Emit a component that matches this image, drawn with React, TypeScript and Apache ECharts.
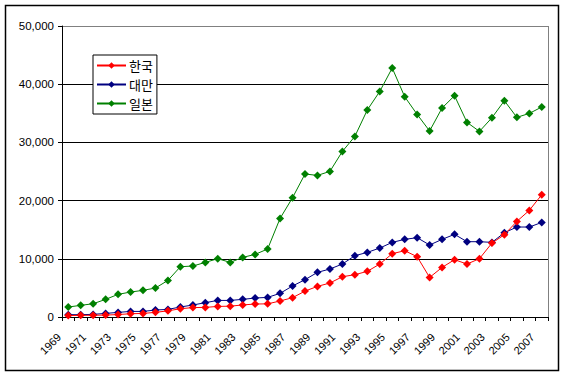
import React, { useEffect, useRef } from "react";
import * as echarts from "echarts";

const years: string[] = [];
for (let y = 1969; y <= 2007; y++) years.push(String(y));

const korea = [250, 280, 300, 330, 420, 560, 610, 800, 1060, 1420, 1620, 1650, 1820, 1860, 2070, 2230, 2260, 2750, 3320, 4450, 5260, 5840, 6920, 7270, 7840, 9100, 10880, 11390, 10360, 6800, 8520, 9850, 9100, 10020, 12700, 14140, 16430, 18320, 21010];
const taiwan = [400, 400, 450, 620, 790, 960, 960, 1200, 1310, 1720, 2060, 2460, 2850, 2850, 3030, 3260, 3370, 4060, 5330, 6410, 7670, 8250, 9100, 10530, 11100, 11850, 12820, 13340, 13630, 12370, 13340, 14200, 12940, 12940, 12820, 14480, 15460, 15460, 16250];
const japan = [1718, 2000, 2280, 3030, 3890, 4290, 4580, 4980, 6290, 8640, 8760, 9380, 10020, 9380, 10240, 10760, 11680, 16940, 20500, 24570, 24330, 25020, 28450, 31030, 35570, 38760, 42780, 37850, 34810, 31960, 35910, 38020, 33440, 31890, 34240, 37160, 34300, 34980, 36080];

const seriesNames = ["한국", "대만", "일본"];
const seriesColors = ["#FF0000", "#000080", "#008000"];
const seriesData = [korea, taiwan, japan];

export default function App() {
  const ref = useRef<HTMLDivElement>(null);
  useEffect(() => {
    if (!ref.current) return;
    const chart = echarts.init(ref.current, null, { renderer: "svg" });
    const font = "Arial, 'Liberation Sans', sans-serif";
    chart.setOption({
      animation: false,
      backgroundColor: "#ffffff",
      grid: { left: 62, right: 18, top: 26, bottom: 59, containLabel: false },
      graphic: [
        {
          type: "rect",
          shape: { x: 5.5, y: 5.5, width: 553, height: 365 },
          style: { fill: "none", stroke: "#000", lineWidth: 1.5 },
          silent: true,
        },
        {
          type: "line",
          shape: { x1: 548.5, y1: 26, x2: 548.5, y2: 317 },
          style: { stroke: "#808080", lineWidth: 1 },
          silent: true,
        },
      ],
      legend: {
        orient: "vertical",
        left: 93,
        top: 55,
        data: seriesNames,
        backgroundColor: "#ffffff",
        borderColor: "#000",
        borderWidth: 1,
        padding: [4, 4, 4, 3],
        itemGap: 6,
        itemWidth: 29,
        itemHeight: 8,
        textStyle: { fontFamily: "'Noto Sans CJK KR', sans-serif", fontSize: 13, color: "#000", padding: [0, 0, 0, -2] },
      },
      xAxis: {
        type: "category",
        data: years,
        boundaryGap: true,
        axisLine: { lineStyle: { color: "#000", width: 1 } },
        axisTick: { show: true, interval: 0, length: 4, lineStyle: { color: "#000" } },
        axisLabel: {
          interval: 1,
          rotate: 45,
          margin: 9,
          color: "#000",
          fontFamily: font,
          fontSize: 11,
          formatter: (v: string) => "{a|" + v + "}",
          rich: { a: { padding: [0, 13, 0, 0], fontFamily: font, fontSize: 11, color: "#000" } },
        },
        splitLine: { show: false },
      },
      yAxis: {
        type: "value",
        min: 0,
        max: 50000,
        interval: 10000,
        axisLine: { show: true, lineStyle: { color: "#000", width: 1 } },
        axisTick: { show: true, length: 4, lineStyle: { color: "#000" } },
        axisLabel: {
          margin: 8,
          color: "#000",
          fontFamily: font,
          fontSize: 11.5,
          formatter: (v: number) => v.toLocaleString("en-US"),
        },
        splitLine: {
          show: true,
          lineStyle: { color: ["#000", "#000", "#000", "#000", "#000", "#808080"], width: 1 },
        },
      },
      series: seriesNames.map((name, i) => ({
        name,
        type: "line",
        data: seriesData[i],
        symbol: "diamond",
        symbolSize: 8,
        showSymbol: true,
        lineStyle: { color: seriesColors[i], width: 1 },
        itemStyle: { color: seriesColors[i] },
        z: 10 - i,
      })),
    });
    return () => chart.dispose();
  }, []);
  return <div ref={ref} style={{ position: "fixed", left: 0, top: 0, width: 566, height: 376 }} />;
}
